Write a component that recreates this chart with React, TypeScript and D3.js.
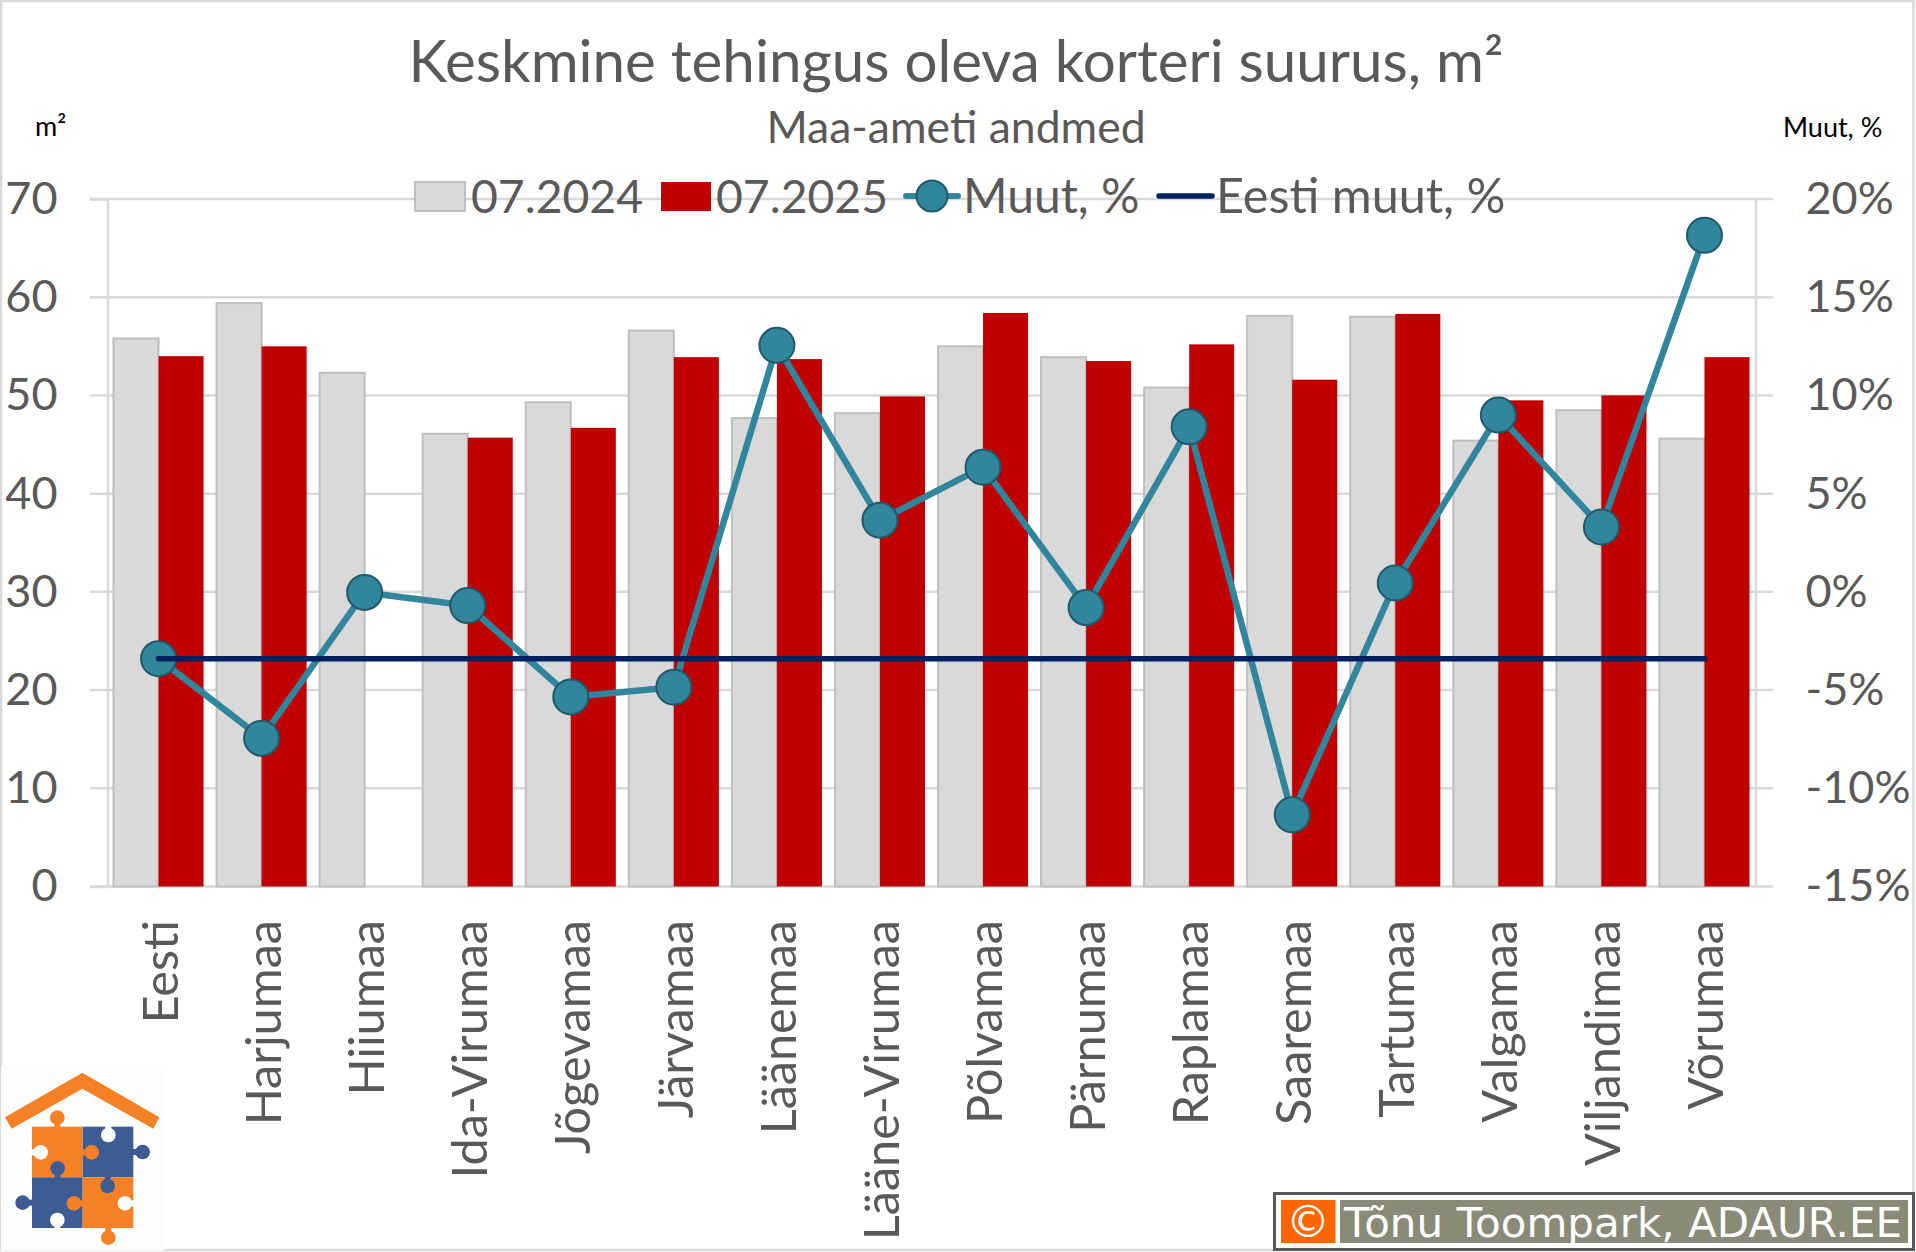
import { useEffect, useRef } from "react";
import * as d3 from "d3";

const categories = [
  "Eesti", "Harjumaa", "Hiiumaa", "Ida-Virumaa", "Jõgevamaa", "Järvamaa", "Läänemaa", "Lääne-Virumaa",
  "Põlvamaa", "Pärnumaa", "Raplamaa", "Saaremaa", "Tartumaa", "Valgamaa", "Viljandimaa", "Võrumaa",
];
const values2024 = [55.8, 59.4, 52.3, 46.1, 49.3, 56.6, 47.7, 48.2, 55.0, 53.9, 50.8, 58.1, 58.0, 45.4, 48.5, 45.6];
const values2025 = [54.0, 55.0, null, 45.7, 46.7, 53.9, 53.7, 49.9, 58.4, 53.5, 55.2, 51.6, 58.3, 49.5, 50.0, 53.9];
const change = [-3.4, -7.45, -0.03, -0.7, -5.35, -4.85, 12.55, 3.65, 6.35, -0.8, 8.4, -11.35, 0.45, 9.0, 3.3, 18.15];
const estoniaChange = -3.4;
const leftTicks = [0, 10, 20, 30, 40, 50, 60, 70];
const rightTicks = [-15, -10, -5, 0, 5, 10, 15, 20];

const width = 1916;
const height = 1252;
const font = "Lato, 'Open Sans', sans-serif";
const textColor = "#595959";
const gridColor = "#d9d9d9";
const teal = "#31859c";
const navy = "#002060";
const red = "#c00000";

const App = () => {
  const ref = useRef<SVGSVGElement | null>(null);

  useEffect(() => {
    const svg = d3.select(ref.current);
    svg.selectAll("*").remove();
    svg.append("rect").attr("width", width).attr("height", height).attr("fill", "#fff");
    svg.append("rect").attr("x", 1).attr("y", 1).attr("width", 1912.5).attr("height", 1249)
      .attr("fill", "none").attr("stroke", gridColor).attr("stroke-width", 2.5);

    const x = d3.scaleBand<string>().domain(categories).range([107, 1756]).paddingInner(0.126).paddingOuter(0.063);
    const y = d3.scaleLinear().domain([0, 70]).range([886.5, 199]);
    const yRight = d3.scaleLinear().domain([-15, 20]).range([886.5, 199]);
    const barW = x.bandwidth() / 2;
    const cx = (c: string) => (x(c) as number) + barW;

    // gridlines and axis lines
    const axisLeft = svg.append("g").attr("transform", "translate(107.5,0)")
      .call(d3.axisLeft(y).tickValues(leftTicks).tickSize(17).tickPadding(0));
    axisLeft.select(".domain").attr("stroke", gridColor).attr("stroke-width", 2.5);
    axisLeft.selectAll(".tick line").attr("stroke", "none");
    axisLeft.selectAll("text").attr("x", -50).attr("text-anchor", "end")
      .attr("font-family", font).attr("font-size", 45).attr("fill", textColor);

    svg.append("g").selectAll("line").data(leftTicks).join("line")
      .attr("x1", 90).attr("x2", 1773).attr("y1", (d) => y(d)).attr("y2", (d) => y(d))
      .attr("stroke", gridColor).attr("stroke-width", 2.5);

    const axisRight = svg.append("g").attr("transform", "translate(1755.5,0)")
      .call(d3.axisRight(yRight).tickValues(rightTicks).tickSize(0).tickFormat((d) => `${d}%`));
    axisRight.select(".domain").attr("stroke", gridColor).attr("stroke-width", 2.5);
    axisRight.selectAll("text").attr("x", 50).attr("text-anchor", "start")
      .attr("font-family", font).attr("font-size", 45).attr("fill", textColor);

    // bars
    svg.append("g").selectAll("rect").data(categories).join("rect")
      .attr("x", (c) => x(c) as number)
      .attr("y", (_, i) => y(values2024[i]))
      .attr("width", barW)
      .attr("height", (_, i) => y(0) - y(values2024[i]))
      .attr("fill", gridColor).attr("stroke", "#bfbfbf").attr("stroke-width", 2);
    svg.append("g").selectAll("rect").data(categories).join("rect")
      .filter((_, i) => values2025[i] !== null)
      .attr("x", (c) => (x(c) as number) + barW)
      .attr("y", (c) => y(values2025[categories.indexOf(c)] as number))
      .attr("width", barW)
      .attr("height", (c) => y(0) - y(values2025[categories.indexOf(c)] as number))
      .attr("fill", red);

    // change line
    const line = d3.line<number>().x((_, i) => cx(categories[i])).y((d) => yRight(d));
    svg.append("path").datum(change).attr("d", line).attr("fill", "none")
      .attr("stroke", teal).attr("stroke-width", 6.5).attr("stroke-linecap", "round");
    svg.append("g").selectAll("circle").data(change).join("circle")
      .attr("cx", (_, i) => cx(categories[i])).attr("cy", (d) => yRight(d)).attr("r", 17.5)
      .attr("fill", teal).attr("stroke", "#215968").attr("stroke-width", 2);
    svg.append("line")
      .attr("x1", cx(categories[0])).attr("x2", cx(categories[categories.length - 1]))
      .attr("y1", yRight(estoniaChange)).attr("y2", yRight(estoniaChange))
      .attr("stroke", navy).attr("stroke-width", 5.5).attr("stroke-linecap", "round");

    // category labels
    svg.append("g").selectAll("text").data(categories).join("text")
      .attr("transform", (c) => `translate(${cx(c) + 2},920) rotate(-90)`)
      .attr("text-anchor", "end").attr("dy", "0.35em")
      .attr("font-family", font).attr("font-size", 48.6).attr("fill", textColor)
      .text((c) => c);

    // titles
    const label = (text: string, px: number, py: number, size: number, color = textColor, anchor = "start") =>
      svg.append("text").attr("x", px).attr("y", py).attr("font-family", font).attr("font-size", size)
        .attr("fill", color).attr("text-anchor", anchor).text(text);
    label("Keskmine tehingus oleva korteri suurus, m²", 956, 82, 58.3, textColor, "middle");
    label("Maa-ameti andmed", 956, 142.5, 44.5, textColor, "middle");
    label("m²", 35, 136, 27, "#000");
    label("Muut, %", 1783, 137, 27, "#000");

    // legend
    svg.append("rect").attr("x", 415).attr("y", 182).attr("width", 50).attr("height", 29)
      .attr("fill", gridColor).attr("stroke", "#bfbfbf").attr("stroke-width", 2);
    label("07.2024", 471, 213, 46.3);
    svg.append("rect").attr("x", 661).attr("y", 182).attr("width", 50).attr("height", 29).attr("fill", red);
    label("07.2025", 716, 213, 46.3);
    svg.append("line").attr("x1", 906).attr("x2", 958).attr("y1", 196).attr("y2", 196)
      .attr("stroke", teal).attr("stroke-width", 6).attr("stroke-linecap", "round");
    svg.append("circle").attr("cx", 932).attr("cy", 196).attr("r", 15.5)
      .attr("fill", teal).attr("stroke", "#215968").attr("stroke-width", 2);
    label("Muut, %", 963, 213, 48);
    svg.append("line").attr("x1", 1159).attr("x2", 1212).attr("y1", 196).attr("y2", 196)
      .attr("stroke", navy).attr("stroke-width", 5.5).attr("stroke-linecap", "round");
    label("Eesti muut, %", 1216, 213, 48.5);

    // logo, traced in zoomed pixels
    const logoBg = "#fcfefb";
    const logo = svg.append("g").attr("transform", "translate(0,1040) scale(0.3333)");
    logo.append("rect").attr("x", 3).attr("y", 78).attr("width", 490).attr("height", 554).attr("fill", logoBg);
    const orange = "#f58026";
    const blue = "#3f5b94";
    logo.append("path").attr("d", "M15,232 L247,98 L478,232 L460,266 L247,146 L35,266 Z").attr("fill", orange);
    const squares: [number, number, string][] = [[96, 260, orange], [248, 260, blue], [96, 412, blue], [248, 412, orange]];
    squares.forEach(([sx, sy, fill]) =>
      logo.append("rect").attr("x", sx).attr("y", sy).attr("width", 152).attr("height", 152).attr("fill", fill));
    const knobs: [number, number, string, number, number][] = [
      [172, 233, orange, 172, 262], [325, 285, logoBg, 325, 258], [122, 337, logoBg, 94, 337], [275, 337, orange, 246, 337],
      [428, 336, blue, 398, 336], [173, 385, blue, 173, 414], [323, 438, blue, 323, 410], [222, 490, orange, 250, 490],
      [68, 488, blue, 98, 488], [375, 490, logoBg, 402, 490], [172, 540, logoBg, 172, 566], [325, 593, orange, 325, 562],
    ];
    knobs.forEach(([kx, ky, fill, rx, ry]) => {
      logo.append("line").attr("x1", kx).attr("y1", ky).attr("x2", rx).attr("y2", ry)
        .attr("stroke", fill).attr("stroke-width", 18);
      logo.append("circle").attr("cx", kx).attr("cy", ky).attr("r", 22).attr("fill", fill);
    });

    // copyright box
    svg.append("rect").attr("x", 1274.5).attr("y", 1193.5).attr("width", 639).attr("height", 56)
      .attr("fill", "#fff").attr("stroke", "#595959").attr("stroke-width", 3);
    svg.append("rect").attr("x", 1281).attr("y", 1200).attr("width", 54.5).attr("height", 43).attr("fill", "#ff6600");
    svg.append("rect").attr("x", 1340).attr("y", 1200).attr("width", 568).attr("height", 43).attr("fill", "#8a8a78");
    svg.append("text").attr("x", 1308).attr("y", 1237).attr("text-anchor", "middle")
      .attr("font-family", "'DejaVu Sans'").attr("font-size", 44).attr("fill", "#fff").text("©");
    svg.append("text").attr("x", 1344).attr("y", 1237)
      .attr("font-family", "'DejaVu Sans'").attr("font-size", 41).attr("fill", "#fff")
      .attr("textLength", 558).attr("lengthAdjust", "spacingAndGlyphs")
      .text("Tõnu Toompark, ADAUR.EE");
  }, []);

  return <svg ref={ref} width={width} height={height} style={{ position: "absolute", left: 0, top: 0 }}></svg>;
};

export default App;
